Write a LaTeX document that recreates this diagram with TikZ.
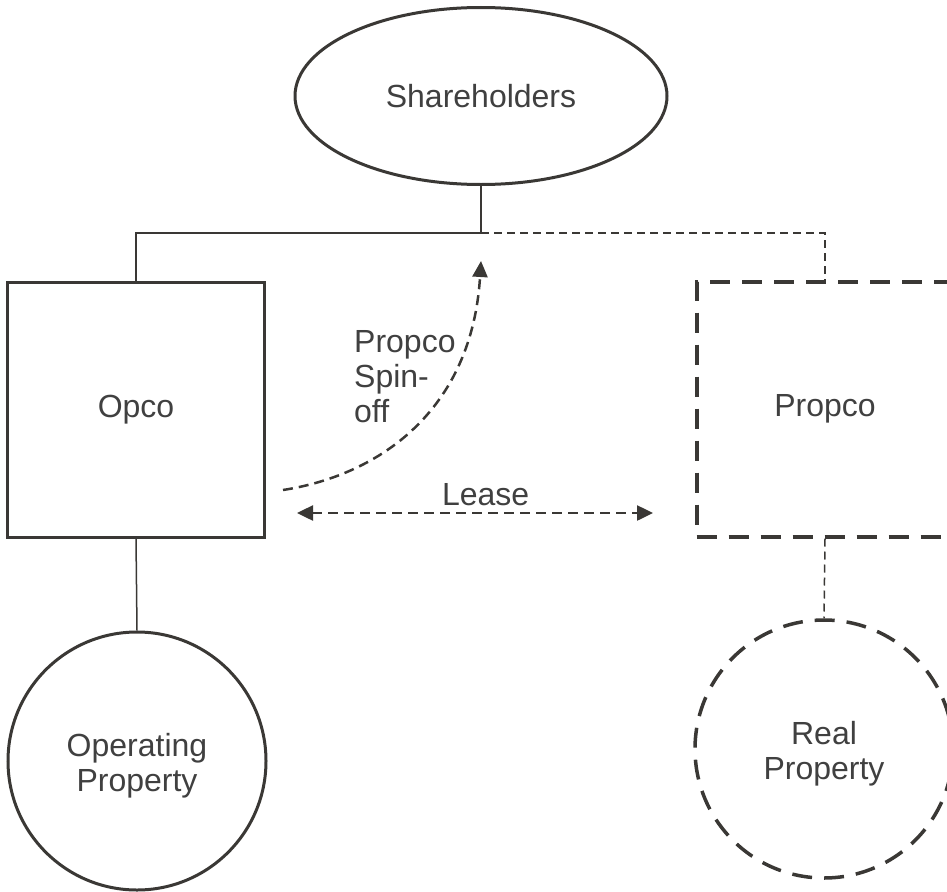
\documentclass[tikz,border=0pt]{standalone}
\usepackage{fontspec}
\setmainfont{Liberation Sans}
\usetikzlibrary{shapes.geometric,arrows.meta}
\definecolor{ink}{HTML}{3A3835}
\definecolor{txt}{HTML}{404040}
\begin{document}
\begin{tikzpicture}[x=1pt,y=-1pt,>={Triangle[length=16pt,width=15pt]},
		every node/.style={font=\fontsize{32}{35}\selectfont,text=txt,inner sep=0pt},
		firm/.style={draw=ink,line width=3pt,minimum width=257pt,minimum height=255pt},
		holder/.style={draw=ink,line width=3pt,circle,minimum size=258pt,align=center,text height=68pt},
		link/.style={draw=ink,line width=1.5pt},
		thinlink/.style={draw=ink,line width=1.5pt,dash pattern=on 8pt off 5pt},
		bigdash/.style={dash pattern=on 20pt off 12pt,line width=4pt},
		move/.style={draw=ink,line width=2.5pt,dash pattern=on 10pt off 6pt}]
	\useasboundingbox (0,0) rectangle (947,891);
	\node[draw=ink,line width=3pt,ellipse,minimum width=372pt,minimum height=177pt] (share) at (481,96) {Shareholders};
	\node[firm] (opco) at (136,409.5) {Opco};
	\node[firm,bigdash] (propco) at (825,409) {Propco};
	\node[holder] (oprop) at (137,761) {Operating\\Property};
	\node[holder,bigdash,line width=3.5pt] (rprop) at (824,749) {Real\\Property};
	\coordinate (fork) at (481,233);
	\draw[link] (share.south) -- (fork) -| (opco.north);
	\draw[thinlink] (fork) -| (propco.north);
	\draw[link] (opco.south) -- (oprop.north);
	\draw[thinlink] (propco.south) -- (rprop.north);
	\coordinate (spinfrom) at (283,490);
	\coordinate (spinto) at (481,261);
	\draw[move,->] (spinfrom) .. controls (380,475) and (472,410) .. (spinto);
	\node[anchor=north west,align=left] (spinlbl) at (354,330) {Propco\\Spin-\\off};
	\coordinate (leasel) at (297,513);
	\coordinate (leaser) at (653,513);
	\draw[move,<->] (leasel) -- node[above=6pt,pos=0.53] (leaselbl) {Lease} (leaser);
\end{tikzpicture}
\end{document}
